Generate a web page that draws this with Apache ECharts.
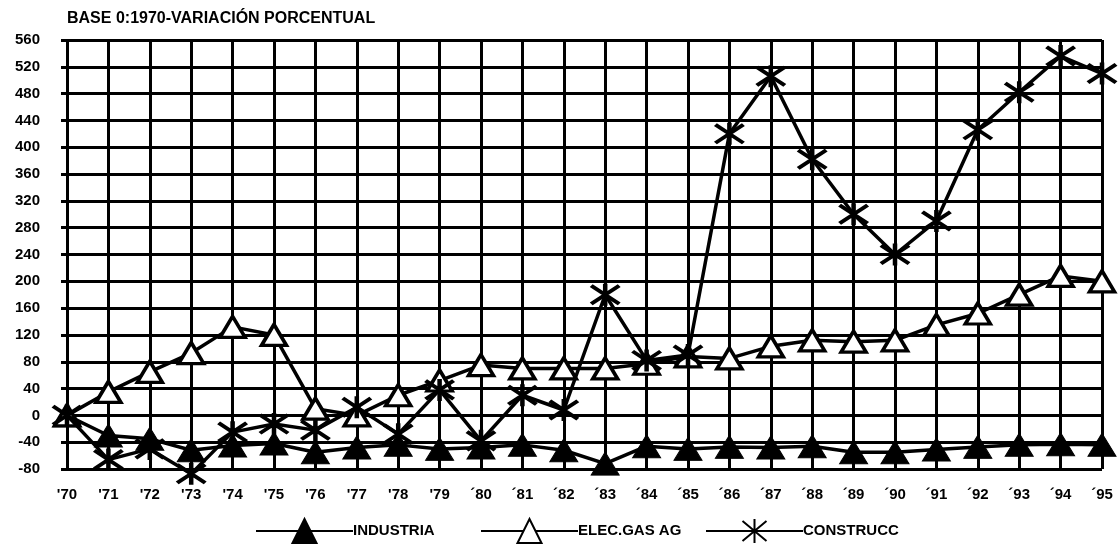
<!DOCTYPE html>
<html>
<head>
<meta charset="utf-8">
<script src="https://cdn.jsdelivr.net/npm/echarts@6/dist/echarts.min.js"></script>
<style>
html,body{margin:0;padding:0;background:#fff;}
#c{width:1119px;height:546px;}
</style>
</head>
<body>
<div id="c"></div>
<script>
const titleText = "BASE 0:1970-VARIACIÓN PORCENTUAL";
const years = ["'70","'71","'72","'73","'74","'75","'76","'77","'78","'79","´80","´81","´82","´83","´84","´85","´86","´87","´88","´89","´90","´91","´92","´93","´94","´95"];
const yTicks = [-80,-40,0,40,80,120,160,200,240,280,320,360,400,440,480,520,560];
const seriesNames = ["INDUSTRIA","ELEC.GAS AG","CONSTRUCC"];
const industria = [0,-30,-35,-52,-45,-42,-55,-48,-44,-50,-48,-44,-52,-72,-46,-50,-47,-48,-46,-55,-55,-51,-47,-44,-43,-44];
const elec = [0,35,65,93,132,120,10,0,30,52,75,70,70,70,77,88,85,103,112,110,112,135,152,180,208,200];
const construcc = [0,-66,-50,-87,-25,-13,-22,12,-28,38,-38,30,8,180,82,90,420,506,382,300,240,290,426,482,536,510];

const FONT = "'Liberation Sans', Arial, sans-serif";
const starPath = 'path://M0,0L10,10M10,0L0,10M5,-1L5,11';

const chart = echarts.init(document.getElementById('c'), null, {renderer:'canvas'});
const legendBase = {
  top: 518, itemWidth: 97, itemHeight: 30, itemGap: 0, padding: 0,
  textStyle: {color:'#000', fontFamily: FONT, fontWeight:'bold', fontSize:15, padding:[0,0,0,-5]},
  selectedMode: false
};
chart.setOption({
  backgroundColor:'#fff',
  animation:false,
  title:{text:titleText, left:67, top:11, padding:0,
    textStyle:{color:'#000', fontFamily:FONT, fontWeight:'bold', fontSize:16}},
  legend:[
    Object.assign({}, legendBase, {left:255, data:[seriesNames[0]]}),
    Object.assign({}, legendBase, {left:480, data:[seriesNames[1]]}),
    Object.assign({}, legendBase, {left:705, data:[seriesNames[2]]})
  ],
  grid:{left:67, right:17, top:40, bottom:77, show:false},
  xAxis:{
    type:'category', data:years, boundaryGap:false,
    axisLine:{lineStyle:{color:'#000', width:3}},
    axisTick:{show:false},
    axisLabel:{color:'#000', fontFamily:FONT, fontWeight:'bold', fontSize:15, margin:18, interval:0},
    splitLine:{show:true, lineStyle:{color:'#000', width:3}}
  },
  yAxis:{
    type:'value', min:yTicks[0], max:yTicks[yTicks.length-1], interval:yTicks[1]-yTicks[0],
    axisLine:{show:false},
    axisTick:{show:true, length:6, lineStyle:{color:'#000', width:3}},
    axisLabel:{color:'#000', fontFamily:FONT, fontWeight:'bold', fontSize:15, margin:27},
    splitLine:{show:true, lineStyle:{color:'#000', width:3}}
  },
  series:[
    {name:seriesNames[0], type:'line', data:industria, symbol:'triangle', symbolSize:[28,23], clip:false,
      lineStyle:{color:'#000', width:3.5}, itemStyle:{color:'#000', borderColor:'#000', borderWidth:1}, z:3},
    {name:seriesNames[1], type:'line', data:elec, symbol:'triangle', symbolSize:[25,21], clip:false,
      lineStyle:{color:'#000', width:3.5}, itemStyle:{color:'#fff', borderColor:'#000', borderWidth:3.5}, z:4},
    {name:seriesNames[2], type:'line', data:construcc, symbol:starPath, symbolSize:[28,22], clip:false,
      lineStyle:{color:'#000', width:3.5}, itemStyle:{color:'#000', borderColor:'#000', borderWidth:4}, z:5}
  ]
});
</script>
</body>
</html>
